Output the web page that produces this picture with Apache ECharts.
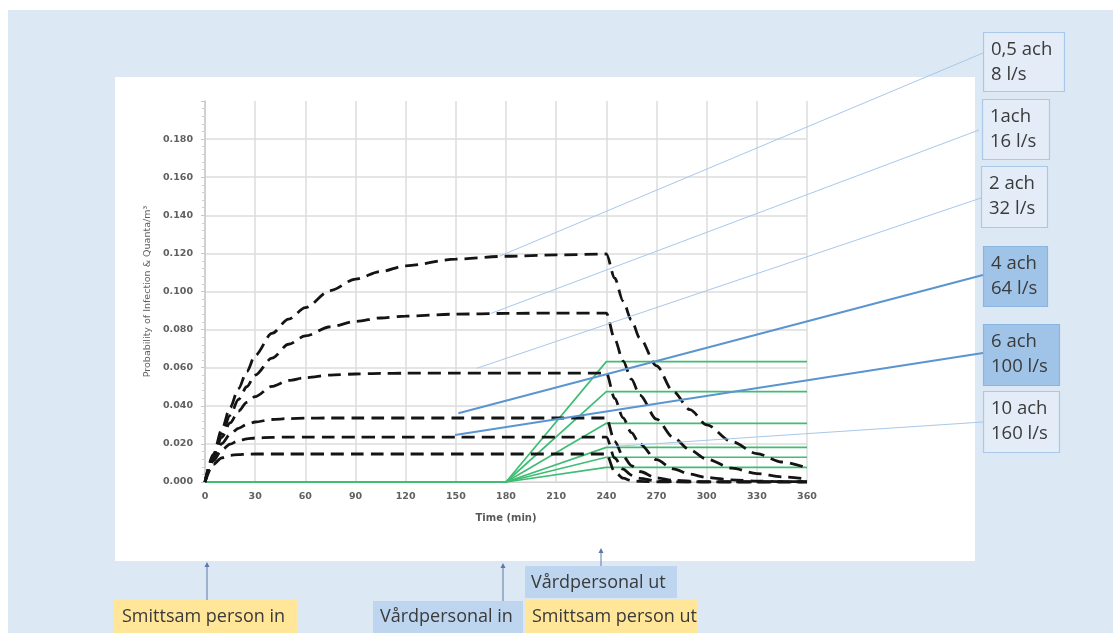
<!DOCTYPE html>
<html><head><meta charset="utf-8">
<script src="https://cdn.jsdelivr.net/npm/echarts@6/dist/echarts.min.js"></script>
<style>html,body{margin:0;padding:0;background:#fff}#c{width:1113px;height:633px}</style>
</head><body><div id="c"></div>
<script>
// ---- data ----
const xTicks = [0,30,60,90,120,150,180,210,240,270,300,330,360];
const times = [0,5,10,15,20,25,30,40,50,60,75,90,105,120,150,180,210,240,245,250,255,260,270,280,290,300,315,330,345,360];
const ach05 = [0,0.0145,0.0275,0.039,0.049,0.058,0.0665,0.078,0.0855,0.0915,0.1005,0.1065,0.1105,0.1135,0.117,0.1185,0.1192,0.1197,0.107,0.095,0.085,0.0755,0.061,0.0475,0.038,0.030,0.0212,0.0149,0.0105,0.0074];
const ach1  = [0,0.0136,0.0252,0.035,0.0433,0.050,0.0561,0.065,0.0723,0.0767,0.0815,0.0843,0.0861,0.0871,0.0881,0.0885,0.0887,0.0887,0.075,0.0636,0.054,0.0456,0.033,0.0234,0.0168,0.012,0.0073,0.0044,0.0027,0.0016];
const ach2  = [0,0.0132,0.0234,0.031,0.0372,0.0418,0.0448,0.0502,0.0533,0.0548,0.0561,0.0567,0.057,0.0571,0.0572,0.0572,0.0572,0.0572,0.0439,0.0337,0.0259,0.0199,0.0117,0.0069,0.0041,0.0024,0.0011,0.0005,0.0002,0.0001];
const ach4  = [0,0.0122,0.0201,0.025,0.0282,0.0302,0.0315,0.0328,0.0333,0.0335,0.0336,0.0336,0.0336,0.0336,0.0336,0.0336,0.0336,0.0336,0.0213,0.0136,0.0086,0.0055,0.0022,0.0009,0.0004,0.0001,0,0,0,0];
const ach6  = [0,0.0111,0.0168,0.0199,0.0217,0.0226,0.0231,0.0234,0.0236,0.0236,0.0236,0.0236,0.0236,0.0236,0.0236,0.0236,0.0236,0.0236,0.0126,0.0068,0.0036,0.0019,0.0006,0.0002,0,0,0,0,0,0];
const ach10 = [0,0.0093,0.0127,0.014,0.0144,0.0146,0.0147,0.0147,0.0147,0.0147,0.0147,0.0147,0.0147,0.0147,0.0147,0.0147,0.0147,0.0147,0.0054,0.002,0.0007,0.0003,0,0,0,0,0,0,0,0];
const staffTimes = [0,180,240,360];
const staff05 = [0,0,0.0632,0.0632];
const staff1  = [0,0,0.0474,0.0474];
const staff2  = [0,0,0.0308,0.0308];
const staff4  = [0,0,0.0182,0.0182];
const staff6  = [0,0,0.0130,0.0130];
const staff10 = [0,0,0.0077,0.0077];
const labelLine1 = ['0,5 ach','1ach','2 ach','4 ach','6 ach','10 ach'];
const labelLine2 = ['8 l/s','16 l/s','32 l/s','64 l/s','100 l/s','160 l/s'];
const annoT = [176,171,162.5,151.5,149.5,243];
const annoV = [0.1185,0.0885,0.0597,0.0361,0.0247,0.0186];
const eventLabels = ['Smittsam person in','Vårdpersonal in','Vårdpersonal ut','Smittsam person ut'];

// ---- layout / style ----
const boxes = [
  {x:983,y:32,w:81,h:59,dark:false,ax:983,ay:53},
  {x:982,y:99,w:67,h:60,dark:false,ax:979,ay:130},
  {x:981,y:166,w:66,h:61,dark:false,ax:981,ay:198},
  {x:983,y:246,w:64,h:60,dark:true,ax:983,ay:275},
  {x:983,y:324,w:76,h:61,dark:true,ax:983,ay:353},
  {x:983,y:391,w:76,h:61,dark:false,ax:983,ay:422}
];
const blackSets = [ach05,ach1,ach2,ach4,ach6,ach10];
const greenSets = [staff05,staff1,staff2,staff4,staff6,staff10];

const chart = echarts.init(document.getElementById('c'), null, {renderer:'canvas'});
const series = [];
greenSets.forEach((vals,i)=>{
  series.push({name:'staff '+labelLine1[i], type:'line', showSymbol:false, silent:true, z:3,
    data: staffTimes.map((t,k)=>[t,vals[k]]),
    lineStyle:{color:'#40bd74', width:1.7}});
});
blackSets.forEach((vals,i)=>{
  series.push({name:labelLine1[i], type:'line', showSymbol:false, silent:true, z:4,
    smooth:0.3, smoothMonotone:'x',
    data: times.map((t,k)=>[t,vals[k]]),
    lineStyle:{color:'#141414', width:2.8, type:[13,7]}});
});

chart.setOption({
  animation:false,
  backgroundColor:'transparent',
  grid:{left:205, right:306, top:101, bottom:151, containLabel:false},
  xAxis:{type:'value', min:0, max:360, interval:30,
    name:'Time (min)', nameLocation:'middle', nameGap:31,
    nameTextStyle:{fontFamily:'DejaVu Sans', fontSize:10, fontWeight:'bold', color:'#595959'},
    axisLine:{show:true, lineStyle:{color:'#d0d0d0', width:1}},
    axisTick:{show:false},
    axisLabel:{margin:10, fontFamily:'DejaVu Sans', fontSize:9.5, fontWeight:'bold', color:'#606060'},
    splitLine:{show:true, lineStyle:{color:'#dcdcdc', width:1.5}}
  },
  yAxis:{type:'value', min:0, max:0.2, interval:0.02,
    name:'Probability of Infection & Quanta/m³', nameLocation:'middle', nameGap:37,
    nameTextStyle:{fontFamily:'DejaVu Sans', fontSize:9.5, color:'#606060'},
    axisLine:{show:true, lineStyle:{color:'#c8c8c8', width:1.5}},
    axisTick:{show:true, length:4, lineStyle:{color:'#c8c8c8'}},
    minorTick:{show:true, splitNumber:5, length:3, lineStyle:{color:'#d0d0d0'}},
    axisLabel:{margin:12, fontFamily:'DejaVu Sans', fontSize:9.5, fontWeight:'bold', color:'#606060',
      showMaxLabel:false, formatter:v=>v.toFixed(3)},
    splitLine:{show:true, showMaxLine:false, lineStyle:{color:'#dcdcdc', width:1.5}}
  },
  series
});

// ---- decorations ----
const els = [];
els.push({type:'rect', z:-10, silent:true, shape:{x:8,y:10,width:1105,height:623}, style:{fill:'#dde8f5'}});
els.push({type:'rect', z:-9, silent:true, shape:{x:115,y:77,width:860,height:484}, style:{fill:'#ffffff'}});

function txt(text,x,y,size,align){
  return {type:'text', z:60, silent:true, style:{text, x, y, font:size+'px "Open Sans"', fill:'#3a3a3a',
    align:align||'left', verticalAlign:'middle', textAlign:align||'left', textVerticalAlign:'middle'}};
}
boxes.forEach((b,i)=>{
  els.push({type:'rect', z:50, silent:true, shape:{x:b.x+0.5,y:b.y+0.5,width:b.w,height:b.h},
    style:{fill: b.dark ? '#9fc4e8' : '#e3ecf7', stroke: b.dark ? '#8ab5e0' : '#a9c8ea', lineWidth:1.2}});
  els.push(txt(labelLine1[i], b.x+8, b.y+18, 18.5));
  els.push(txt(labelLine2[i], b.x+8, b.y+43, 18.5));
  const p = chart.convertToPixel({xAxisIndex:0,yAxisIndex:0},[annoT[i],annoV[i]]);
  els.push({type:'line', z:40, silent:true, shape:{x1:p[0],y1:p[1],x2:b.ax,y2:b.ay},
    style:{stroke: b.dark ? '#5b95d0' : '#a8c8ea', lineWidth: b.dark ? 2 : 1}});
});

// bottom event labels
const evBoxes = [
  {x:113,y:600,w:184,h:33,fill:'#ffe699',tx:122,ty:617},
  {x:373,y:601,w:150,h:32,fill:'#bdd5ee',tx:380,ty:617},
  {x:525,y:566,w:152,h:32,fill:'#bdd5ee',tx:531,ty:583},
  {x:525,y:600,w:172,h:33,fill:'#ffe699',tx:532,ty:617}
];
evBoxes.forEach((b,i)=>{
  els.push({type:'rect', z:50, silent:true, shape:{x:b.x,y:b.y,width:b.w,height:b.h}, style:{fill:b.fill}});
  els.push(txt(eventLabels[i], b.tx, b.ty, 18));
});
const arrows = [{x:207,y1:600,y2:562},{x:503,y1:601,y2:563},{x:601,y1:566,y2:548}];
arrows.forEach(a=>{
  els.push({type:'line', z:55, silent:true, shape:{x1:a.x,y1:a.y1,x2:a.x,y2:a.y2+3}, style:{stroke:'#5a7aa5', lineWidth:1}});
  els.push({type:'polygon', z:55, silent:true, shape:{points:[[a.x,a.y2],[a.x-2.5,a.y2+5],[a.x+2.5,a.y2+5]]}, style:{fill:'#5a7aa5'}});
});

chart.setOption({graphic:{elements:els}});
</script></body></html>
